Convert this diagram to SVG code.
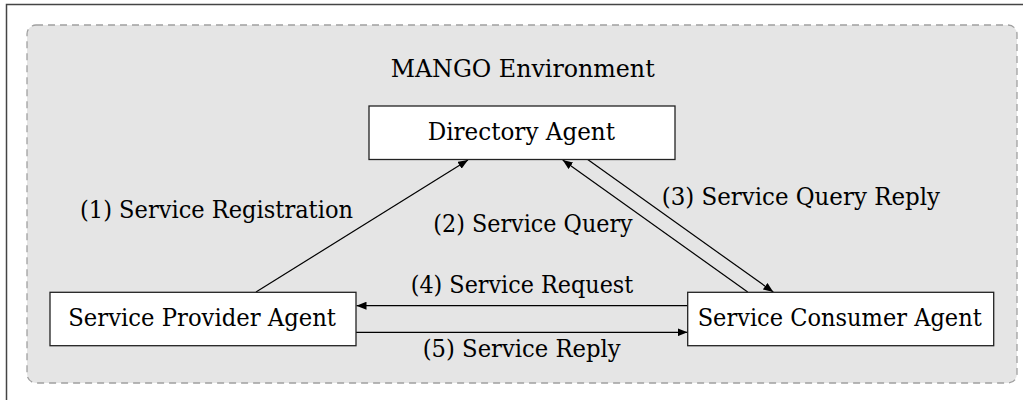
<svg xmlns="http://www.w3.org/2000/svg" width="1023" height="400" viewBox="0 0 1023 400">
  <style>
    .box { fill: #fff; stroke: #222; stroke-width: 1.3; }
    .edge { fill: none; stroke: #000; stroke-width: 1.2; }
  </style>
  <defs>
    <marker id="arrow" viewBox="0 0 10 8" refX="10" refY="4" markerWidth="10" markerHeight="8" markerUnits="userSpaceOnUse" orient="auto">
      <path d="M0,0 L10,4 L0,8 Z" fill="#000"/>
    </marker>
  </defs>

  <!-- outer frame -->
  <rect x="6.5" y="4.5" width="1030" height="420" fill="#fff" stroke="#444" stroke-width="1.5"/>

  <g font-family="DejaVu Serif, serif" font-size="25" fill="#000">
    <!-- environment area -->
    <g id="environment">
      <rect x="27" y="25" width="990" height="358" rx="9" ry="9" fill="#e5e5e5" stroke="#a0a0a0" stroke-width="1.3" stroke-dasharray="7,5"/>
      <text x="390.7" y="76.7" textLength="264" lengthAdjust="spacingAndGlyphs">MANGO Environment</text>
    </g>

    <!-- connectors -->
    <g id="connectors">
      <line class="edge" x1="256" y1="292" x2="468" y2="160" marker-end="url(#arrow)"/>
      <line class="edge" x1="747.7" y1="292" x2="562.7" y2="160" marker-end="url(#arrow)"/>
      <line class="edge" x1="587.7" y1="159.5" x2="773.3" y2="292" marker-end="url(#arrow)"/>
      <line class="edge" x1="688" y1="305.7" x2="356.5" y2="305.7" marker-end="url(#arrow)"/>
      <line class="edge" x1="356" y1="332.3" x2="687.5" y2="332.3" marker-end="url(#arrow)"/>
      <text x="80" y="218.3" textLength="273" lengthAdjust="spacingAndGlyphs">(1) Service Registration</text>
      <text x="433.3" y="231.7" textLength="199.4" lengthAdjust="spacingAndGlyphs">(2) Service Query</text>
      <text x="661.7" y="205" textLength="278.3" lengthAdjust="spacingAndGlyphs">(3) Service Query Reply</text>
      <text x="410.7" y="293.3" textLength="222.6" lengthAdjust="spacingAndGlyphs">(4) Service Request</text>
      <text x="422.7" y="356.7" textLength="198" lengthAdjust="spacingAndGlyphs">(5) Service Reply</text>
    </g>

    <g id="directory-agent">
      <rect class="box" x="369" y="106" width="306" height="53.5"/>
      <text x="427.7" y="140" textLength="187.3" lengthAdjust="spacingAndGlyphs">Directory Agent</text>
    </g>

    <g id="service-provider-agent">
      <rect class="box" x="50" y="292.3" width="306" height="53.4"/>
      <text x="68.3" y="326" textLength="267.7" lengthAdjust="spacingAndGlyphs">Service Provider Agent</text>
    </g>

    <g id="service-consumer-agent">
      <rect class="box" x="687.7" y="292.3" width="306" height="53.4"/>
      <text x="697.7" y="326" textLength="284" lengthAdjust="spacingAndGlyphs">Service Consumer Agent</text>
    </g>
  </g>
</svg>
